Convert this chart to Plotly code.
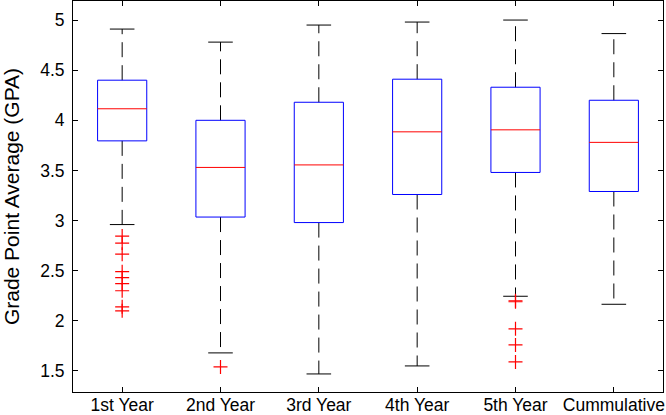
import plotly.graph_objects as go

categories = ["1st Year", "2nd Year", "3rd Year", "4th Year", "5th Year", "Cummulative"]
upper_whisker = [4.91, 4.78, 4.95, 4.98, 5.00, 4.865]
q3 = [4.40, 4.00, 4.18, 4.41, 4.33, 4.20]
median = [4.115, 3.53, 3.555, 3.885, 3.905, 3.78]
q1 = [3.795, 3.035, 2.98, 3.26, 3.48, 3.29]
lower_whisker = [2.96, 1.68, 1.47, 1.55, 2.245, 2.165]
outliers = [
    [2.845, 2.775, 2.665, 2.49, 2.43, 2.37, 2.30, 2.14, 2.10],
    [1.54],
    [],
    [],
    [2.20, 2.19, 1.92, 1.76, 1.59],
    [],
]

BOX_HALF = 0.25
CAP_HALF = 0.125
positions = list(range(1, len(categories) + 1))

box_x, box_y = [], []
med_x, med_y = [], []
wh_x, wh_y = [], []
cap_x, cap_y = [], []
out_x, out_y = [], []
for p, uw, a3, m, a1, lw, outs in zip(positions, upper_whisker, q3, median, q1, lower_whisker, outliers):
    box_x += [p - BOX_HALF, p + BOX_HALF, p + BOX_HALF, p - BOX_HALF, p - BOX_HALF, None]
    box_y += [a1, a1, a3, a3, a1, None]
    med_x += [p - BOX_HALF, p + BOX_HALF, None]
    med_y += [m, m, None]
    wh_x += [p, p, None, p, p, None]
    wh_y += [a3, uw, None, a1, lw, None]
    cap_x += [p - CAP_HALF, p + CAP_HALF, None, p - CAP_HALF, p + CAP_HALF, None]
    cap_y += [uw, uw, None, lw, lw, None]
    out_x += [p] * len(outs)
    out_y += outs

fig = go.Figure()
fig.add_trace(go.Scatter(x=wh_x, y=wh_y, mode="lines",
                         line=dict(color="black", width=1, dash="15px,8px"), hoverinfo="skip"))
fig.add_trace(go.Scatter(x=cap_x, y=cap_y, mode="lines",
                         line=dict(color="black", width=1), hoverinfo="skip"))
fig.add_trace(go.Scatter(x=box_x, y=box_y, mode="lines",
                         line=dict(color="#0000FF", width=1), hoverinfo="skip"))
fig.add_trace(go.Scatter(x=med_x, y=med_y, mode="lines",
                         line=dict(color="#FF0000", width=1), hoverinfo="skip"))
fig.add_trace(go.Scatter(x=out_x, y=out_y, mode="markers",
                         marker=dict(symbol="cross-thin", size=10,
                                     line=dict(color="#FF0000", width=1.2)),
                         hoverinfo="skip"))

font_family = "Liberation Sans, Arial, sans-serif"
fig.update_layout(
    width=666, height=415,
    margin=dict(l=73, r=3, t=1, b=23),
    plot_bgcolor="white", paper_bgcolor="white",
    showlegend=False,
    font=dict(family=font_family, size=17, color="black"),
    xaxis=dict(
        range=[0.5, 6.5], tickmode="array", tickvals=positions, ticktext=categories,
        ticks="inside", ticklen=5, tickcolor="black",
        showline=True, linecolor="black", linewidth=1, mirror="allticks",
        showgrid=False, zeroline=False, automargin=False,
        tickfont=dict(size=17.5),
        ticklabelstandoff=-3,
    ),
    yaxis=dict(
        range=[1.29, 5.19], tickmode="array",
        tickvals=[1.5, 2, 2.5, 3, 3.5, 4, 4.5, 5],
        ticktext=["1.5", "2", "2.5", "3", "3.5", "4", "4.5", "5"],
        ticks="inside", ticklen=5, tickcolor="black",
        showline=True, linecolor="black", linewidth=1, mirror="allticks",
        showgrid=False, zeroline=False, automargin=False,
        tickfont=dict(size=17.5),
        ticklabelstandoff=4,
        title=dict(text="Grade Point Average (GPA)", font=dict(size=21), standoff=14),
    ),
)

fig.write_html(
    "out.html",
    config={"displayModeBar": False},
    post_script="document.body.style.margin='0px';document.body.style.overflow='hidden';",
)
